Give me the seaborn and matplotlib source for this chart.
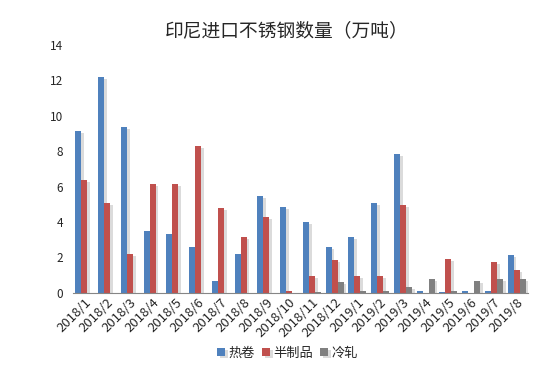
import pandas as pd
import matplotlib
matplotlib.use('Agg')
import matplotlib.pyplot as plt
import matplotlib.patheffects as pe
import seaborn as sns

# monthly import volume (10k tonnes)
months = ['2018/1', '2018/2', '2018/3', '2018/4', '2018/5', '2018/6', '2018/7',
          '2018/8', '2018/9', '2018/10', '2018/11', '2018/12', '2019/1', '2019/2',
          '2019/3', '2019/4', '2019/5', '2019/6', '2019/7', '2019/8']
hot_rolled = [9.15, 12.2, 9.37, 3.5, 3.3, 2.6, 0.7, 2.2, 5.48, 4.86,
              4.02, 2.6, 3.17, 5.09, 7.85, 0.13, 0.07, 0.13, 0.13, 2.16]
semi_finished = [6.39, 5.09, 2.22, 6.16, 6.16, 8.3, 4.81, 3.17, 4.3, 0.13,
                 0.97, 1.88, 0.97, 0.97, 4.98, 0.0, 1.93, 0.0, 1.77, 1.31]
cold_rolled = [0, 0, 0, 0, 0, 0, 0, 0, 0, 0,
               0.07, 0.63, 0.13, 0.13, 0.35, 0.8, 0.13, 0.69, 0.8, 0.8]
series_names = ['热卷', '半制品', '冷轧']
colors = ['#4F81BD', '#C0504D', '#808080']

df = pd.DataFrame({'month': months, series_names[0]: hot_rolled,
                   series_names[1]: semi_finished, series_names[2]: cold_rolled})
df = df.melt(id_vars='month', var_name='type', value_name='value')

sns.set_style('white')
plt.rcParams['font.family'] = ['Noto Sans CJK SC', 'DejaVu Sans']

fig = plt.figure(figsize=(5.48, 3.68), dpi=100)
ax = fig.add_axes([0.133, 0.204, 0.8305, 0.674])
sns.barplot(data=df, x='month', y='value', hue='type', palette=colors,
            width=0.79, saturation=1, ax=ax, legend=True)

# soft drop shadow like the original spreadsheet chart
for p in ax.patches:
    p.set_path_effects([pe.SimplePatchShadow(offset=(2, -1.5), shadow_rgbFace='#999999', alpha=0.35),
                        pe.Normal()])
    p.set_linewidth(0)

ax.set_ylim(0, 14)
ax.set_yticks(range(0, 15, 2))
ax.set_xlim(-0.5, len(months) - 0.5)
ax.set_xlabel('')
ax.set_ylabel('')
sns.despine(ax=ax, left=True)
ax.spines['bottom'].set_color('#868686')
ax.tick_params(axis='y', labelsize=8.5, length=0, pad=7)
ax.tick_params(axis='x', labelsize=9.5, length=0, pad=2)
plt.setp(ax.get_xticklabels(), rotation=45, ha='right', rotation_mode='anchor')

ax.set_title('印尼进口不锈钢数量（万吨）', fontsize=13.5, pad=6, x=0.47)

handles, labels = ax.get_legend_handles_labels()
ax.legend(handles, labels, loc='lower center', ncol=3, frameon=False,
          fontsize=9.5, handlelength=0.6, handleheight=0.6,
          handletextpad=0.3, columnspacing=0.5)
leg = ax.get_legend()
leg.set_bbox_to_anchor((0.525, -0.01), transform=fig.transFigure)

fig.savefig('out.png', dpi=100)
